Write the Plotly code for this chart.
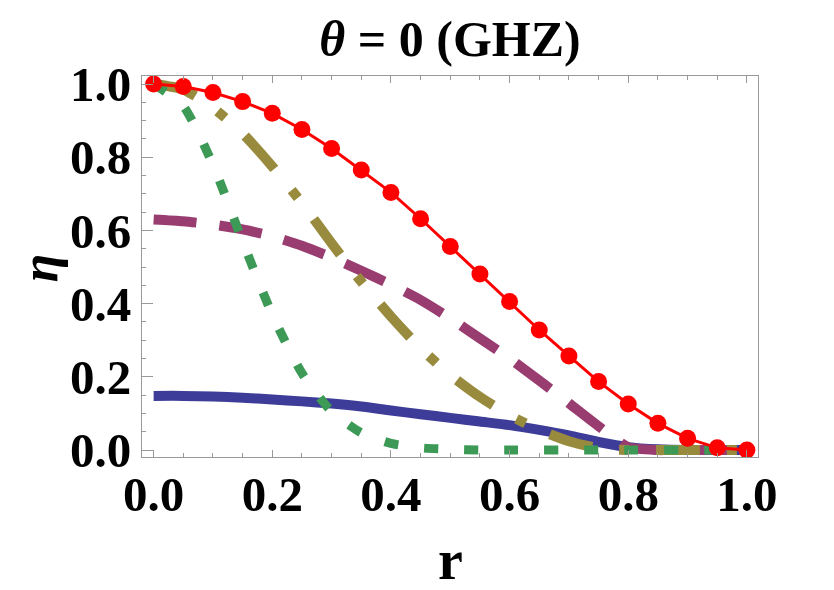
import plotly.graph_objects as go

r = [0.0, 0.05, 0.1, 0.15, 0.2, 0.25, 0.3, 0.35, 0.4, 0.45, 0.5,
     0.55, 0.6, 0.65, 0.7, 0.75, 0.8, 0.85, 0.9, 0.95, 1.0]

eta_blue = [0.148, 0.148, 0.146, 0.143, 0.138, 0.133, 0.127, 0.119, 0.108, 0.098, 0.088,
            0.078, 0.068, 0.055, 0.040, 0.022, 0.008, 0.002, 0.0, 0.0, 0.0]
eta_purple = [0.630, 0.625, 0.616, 0.603, 0.584, 0.558, 0.526, 0.490, 0.452, 0.410, 0.360,
              0.305, 0.250, 0.190, 0.128, 0.065, 0.008, 0.0, 0.0, 0.0, 0.0]
eta_olive = [1.0, 0.985, 0.935, 0.865, 0.775, 0.675, 0.565, 0.460, 0.365, 0.278, 0.205,
             0.145, 0.095, 0.055, 0.024, 0.005, 0.0, 0.0, 0.0, 0.0, 0.0]
eta_green = [1.0, 0.94, 0.78, 0.57, 0.37, 0.21, 0.105, 0.047, 0.018, 0.006, 0.002,
             0.0, 0.0, 0.0, 0.0, 0.0, 0.0, 0.0, 0.0, 0.0, 0.0]
eta_red = [1.0, 0.993, 0.977, 0.952, 0.920, 0.876, 0.824, 0.765, 0.704, 0.632, 0.556,
           0.481, 0.406, 0.328, 0.257, 0.187, 0.126, 0.073, 0.032, 0.006, 0.0]

x_ticks = [0.0, 0.2, 0.4, 0.6, 0.8, 1.0]
x_ticklabels = ["0.0", "0.2", "0.4", "0.6", "0.8", "1.0"]
y_ticks = [0.0, 0.2, 0.4, 0.6, 0.8, 1.0]
y_ticklabels = ["0.0", "0.2", "0.4", "0.6", "0.8", "1.0"]

FONT = "Liberation Serif"
FRAME = "#999999"

fig = go.Figure()
fig.add_trace(go.Scatter(x=r, y=eta_blue, mode="lines",
                         line=dict(color="#3D3D99", width=10, shape="spline", smoothing=0.6)))
fig.add_trace(go.Scatter(x=r, y=eta_purple, mode="lines",
                         line=dict(color="#993D71", width=10, dash="43px,23px", shape="spline", smoothing=0.6)))
fig.add_trace(go.Scatter(x=r, y=eta_olive, mode="lines",
                         line=dict(color="#998B3D", width=10, dash="44px,27px,10px,27px", shape="spline", smoothing=0.6)))
fig.add_trace(go.Scatter(x=r, y=eta_green, mode="lines",
                         line=dict(color="#3D9956", width=9, dash="14px,26px", shape="spline", smoothing=0.6)))
fig.add_trace(go.Scatter(x=r, y=eta_red, mode="lines+markers",
                         line=dict(color="#FF0000", width=3),
                         marker=dict(color="#FF0000", size=17)))

xr = [-0.0196, 1.0187]
yr = [-0.019, 1.022]

fig.update_layout(
    width=834, height=590,
    margin=dict(l=142, r=76, t=76, b=133),
    paper_bgcolor="white", plot_bgcolor="white",
    showlegend=False,
    font=dict(family=FONT, color="black"),
    title=dict(text="<b><i>θ</i> = 0 (GHZ)</b>", x=0.5, xref="paper", xanchor="center",
               y=1 - 38 / 590, yref="container", yanchor="middle",
               font=dict(family=FONT, size=50, color="black")),
    xaxis=dict(range=xr, tickvals=x_ticks, ticktext=x_ticklabels,
               showgrid=False, zeroline=False, showline=True, linecolor=FRAME, linewidth=1,
               mirror="allticks", ticks="inside", ticklen=7, tickcolor=FRAME, tickwidth=1,
               minor=dict(dtick=0.05, tick0=0, ticks="inside", ticklen=4, tickcolor=FRAME, showgrid=False),
               tickfont=dict(family=FONT, size=49, color="black", weight="bold"),
               ticklabelstandoff=-6),
    yaxis=dict(range=yr, tickvals=y_ticks, ticktext=y_ticklabels,
               showgrid=False, zeroline=False, showline=True, linecolor=FRAME, linewidth=1,
               mirror=True, ticks="inside", ticklen=11, tickcolor=FRAME, tickwidth=1,
               minor=dict(dtick=0.05, tick0=0, ticks="inside", ticklen=4, tickcolor=FRAME, showgrid=False),
               tickfont=dict(family=FONT, size=49, color="black", weight="bold"),
               ticklabelstandoff=0),
    yaxis2=dict(range=yr, overlaying="y", side="right", tickvals=y_ticks, showticklabels=False,
                showgrid=False, zeroline=False, showline=False,
                ticks="inside", ticklen=6, tickcolor=FRAME, tickwidth=1,
                minor=dict(dtick=0.05, tick0=0, ticks="inside", ticklen=3, tickcolor=FRAME, showgrid=False)),
    annotations=[
        dict(text="<b>r</b>", x=0.5, xref="paper", y=(457 - 560) / 381, yref="paper",
             xanchor="center", yanchor="middle", showarrow=False,
             font=dict(family=FONT, size=56, color="black")),
        dict(text="<b><i>η</i></b>", x=(39 - 141.7) / 616, xref="paper", y=(457 - 268) / 381, yref="paper",
             xanchor="center", yanchor="middle", showarrow=False, textangle=-90,
             font=dict(family=FONT, size=52, color="black")),
    ],
)

fig.write_html("out.html")
